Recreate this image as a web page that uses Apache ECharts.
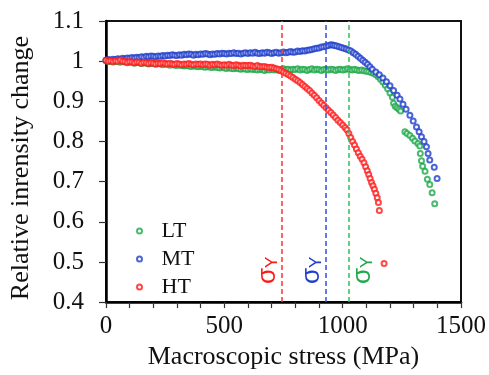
<!DOCTYPE html>
<html>
<head>
<meta charset="utf-8">
<script src="https://cdn.jsdelivr.net/npm/echarts@6/dist/echarts.min.js"></script>
<style>
  html, body { margin: 0; padding: 0; background: #fff; }
  #chart { width: 489px; height: 375px; }
</style>
</head>
<body>
<div id="chart"></div>
<script>
// Relative intensity change vs. macroscopic stress for three heat treatments
const seriesNames = ['LT', 'MT', 'HT'];
const seriesColors = ['#1ea84a', '#1f3fcc', '#ff1a1a'];
const yieldLineColors = ['#2fbf55', '#3050dd', '#ff3030'];

// yield stress (MPa) of LT, MT, HT
const yieldStress = [1026, 929, 741];

const ltPoints = [
  [0,1.001],[10,0.999],[20,1.000],[30,0.998],[40,1.000],[50,0.999],[60,0.997],[70,0.999],[80,0.998],[90,0.996],
  [100,0.998],[110,0.997],[120,0.995],[130,0.997],[140,0.996],[150,0.994],[160,0.996],[170,0.995],[180,0.993],[190,0.995],
  [200,0.994],[210,0.992],[220,0.994],[230,0.993],[240,0.991],[250,0.993],[260,0.992],[270,0.990],[280,0.992],[290,0.990],
  [300,0.989],[310,0.991],[320,0.989],[330,0.988],[340,0.990],[350,0.988],[360,0.987],[370,0.989],[380,0.987],[390,0.986],
  [400,0.988],[410,0.986],[420,0.985],[430,0.987],[440,0.985],[450,0.984],[460,0.986],[470,0.984],[480,0.983],[490,0.985],
  [500,0.983],[510,0.982],[520,0.984],[530,0.982],[540,0.981],[550,0.983],[560,0.981],[570,0.980],[580,0.982],[590,0.980],
  [600,0.979],[610,0.981],[620,0.979],[630,0.980],[640,0.978],[650,0.980],[660,0.979],[670,0.977],[680,0.979],[690,0.978],
  [700,0.980],[710,0.978],[720,0.979],[730,0.977],[740,0.979],[750,0.981],[760,0.979],[770,0.980],[780,0.978],[790,0.980],
  [800,0.979],[810,0.981],[820,0.978],[830,0.980],[840,0.979],[850,0.977],[860,0.979],[870,0.981],[880,0.978],[890,0.980],
  [900,0.979],[910,0.977],[920,0.979],[930,0.980],[940,0.978],[950,0.980],[960,0.979],[970,0.977],[980,0.979],[990,0.980],
  [1000,0.978],[1010,0.979],[1020,0.981],[1030,0.979],[1040,0.978],[1050,0.980],[1060,0.978],[1070,0.977],[1080,0.978],[1090,0.976],
  [1100,0.975],[1110,0.974],[1120,0.972],[1130,0.970],[1140,0.966],[1150,0.961],[1160,0.955],[1170,0.948],[1180,0.940],[1190,0.931],
  [1200,0.921],[1210,0.910],[1215,0.895],[1222,0.888],[1230,0.884],[1238,0.880],[1245,0.876],
  [1263,0.824],[1272,0.820],[1284,0.815],[1295,0.808],[1305,0.801],[1318,0.795],[1326,0.789],
  [1328,0.770],[1333,0.752],[1338,0.738],[1348,0.726],[1358,0.706],[1368,0.693],[1378,0.672],[1389,0.645]
];

const mtPoints = [
  [0,1.002],[10,1.004],[20,1.003],[30,1.005],[40,1.004],[50,1.006],[60,1.005],[70,1.007],[80,1.006],[90,1.008],
  [100,1.007],[110,1.009],[120,1.008],[130,1.010],[140,1.009],[150,1.011],[160,1.010],[170,1.012],[180,1.011],[190,1.013],
  [200,1.012],[210,1.011],[220,1.013],[230,1.012],[240,1.014],[250,1.013],[260,1.015],[270,1.014],[280,1.016],[290,1.015],
  [300,1.014],[310,1.016],[320,1.015],[330,1.017],[340,1.016],[350,1.018],[360,1.017],[370,1.015],[380,1.017],[390,1.016],
  [400,1.018],[410,1.017],[420,1.019],[430,1.018],[440,1.016],[450,1.018],[460,1.017],[470,1.019],[480,1.018],[490,1.020],
  [500,1.019],[510,1.018],[520,1.020],[530,1.019],[540,1.021],[550,1.019],[560,1.020],[570,1.018],[580,1.020],[590,1.021],
  [600,1.019],[610,1.021],[620,1.020],[630,1.022],[640,1.020],[650,1.019],[660,1.021],[670,1.020],[680,1.022],[690,1.021],
  [700,1.019],[710,1.021],[720,1.022],[730,1.020],[740,1.021],[750,1.023],[760,1.021],[770,1.022],[780,1.024],[790,1.022],
  [800,1.023],[810,1.025],[820,1.024],[830,1.026],[840,1.025],[850,1.027],[860,1.028],[870,1.029],[880,1.031],[890,1.032],
  [900,1.033],[910,1.035],[920,1.036],[930,1.038],[940,1.039],[950,1.041],[958,1.040],[966,1.039],[975,1.038],[985,1.036],
  [995,1.034],[1005,1.032],[1015,1.030],[1025,1.028],[1035,1.025],[1045,1.021],[1055,1.017],[1065,1.012],[1075,1.007],[1085,1.002],
  [1095,0.997],[1105,0.992],[1115,0.986],[1125,0.980],[1140,0.973],[1155,0.966],[1170,0.958],[1185,0.949],[1200,0.939],[1215,0.927],
  [1230,0.915],[1242,0.906],[1255,0.893],[1268,0.880],[1284,0.865],[1298,0.851],[1312,0.836],[1323,0.824],[1333,0.812],[1344,0.800],
  [1354,0.787],[1361,0.770],[1368,0.754],[1387,0.736],[1399,0.708]
];

const htPoints = [
  [0,1.002],[10,1.000],[20,1.001],[30,0.999],[40,1.001],[50,1.000],[60,1.003],[70,1.000],[80,0.999],[90,0.997],
  [100,0.999],[110,0.998],[120,0.996],[130,0.998],[140,0.997],[150,0.995],[160,0.997],[170,0.996],[180,0.994],[190,0.996],
  [200,0.995],[210,0.993],[220,0.995],[230,0.994],[240,0.996],[250,0.994],[260,0.993],[270,0.995],[280,0.993],[290,0.992],
  [300,0.994],[310,0.993],[320,0.991],[330,0.993],[340,0.992],[350,0.994],[360,0.992],[370,0.991],[380,0.993],[390,0.992],
  [400,0.993],[410,0.991],[420,0.993],[430,0.992],[440,0.990],[450,0.992],[460,0.991],[470,0.993],[480,0.991],[490,0.990],
  [500,0.991],[510,0.990],[520,0.992],[530,0.990],[540,0.989],[550,0.991],[560,0.990],[570,0.988],[580,0.990],[590,0.989],
  [600,0.989],[610,0.990],[620,0.988],[630,0.987],[640,0.989],[650,0.987],[660,0.986],[670,0.987],[680,0.985],[690,0.984],
  [700,0.985],[710,0.983],[720,0.981],[730,0.979],[740,0.976],[750,0.973],[760,0.970],[770,0.967],[780,0.963],[790,0.959],
  [800,0.955],[810,0.951],[820,0.947],[830,0.942],[840,0.937],[850,0.932],[860,0.927],[870,0.921],[880,0.915],[890,0.909],
  [900,0.902],[910,0.896],[920,0.890],[930,0.884],[940,0.878],[950,0.872],[960,0.866],[970,0.860],[980,0.853],[990,0.847],
  [1000,0.841],[1010,0.835],[1018,0.829],[1026,0.820],[1034,0.810],[1042,0.800],[1050,0.791],[1058,0.781],[1066,0.772],[1074,0.763],
  [1082,0.756],[1090,0.747],[1097,0.737],[1104,0.727],[1110,0.718],[1116,0.708],[1122,0.698],[1128,0.690],[1134,0.681],[1140,0.671],
  [1146,0.660],[1151,0.648],[1155,0.628],[1175,0.496]
];

const xTicks = { min: 0, max: 1500, step: 500 };
const yTicks = { min: 0.4, max: 1.1, step: 0.1 };

const serif = 'Liberation Serif';
const chart = echarts.init(document.getElementById('chart'), null, { renderer: 'canvas' });

const pointSets = [ltPoints, mtPoints, htPoints];

const scatterSeries = seriesNames.map((name, i) => ({
  name: name,
  type: 'scatter',
  z: 3,
  data: pointSets[i],
  symbol: 'emptyCircle',
  symbolSize: 5,
  itemStyle: { color: seriesColors[i], borderColor: seriesColors[i], borderWidth: 1.5 },
  emphasis: { disabled: true }
}));

// dashed yield-stress markers with their σY labels
const yieldSeries = {
  name: 'yield',
  type: 'scatter',
  z: 1,
  data: [],
  silent: true,
  markLine: {
    silent: true,
    symbol: ['none', 'none'],
    data: yieldStress.map((v, i) => ({
      xAxis: v,
      lineStyle: { color: yieldLineColors[i], type: [5, 3], width: 1.5 },
      label: {
        show: true,
        position: i === 0 ? 'insideStartBottom' : 'insideStartTop',
        distance: [18, 1],
        formatter: '{s|σ}{y|Y}',
        rich: {
          s: { fontFamily: 'Liberation Sans', fontSize: 26, color: seriesColors[i], lineHeight: 26 },
          y: { fontFamily: 'Liberation Sans', fontSize: 17, color: seriesColors[i], verticalAlign: 'bottom', lineHeight: 26 }
        }
      }
    }))
  }
};

chart.setOption({
  animation: false,
  backgroundColor: '#fff',
  grid: {
    left: 105, right: 28, top: 21, bottom: 69,
    show: true, borderColor: '#111', borderWidth: 2, backgroundColor: 'transparent'
  },
  legend: {
    data: seriesNames,
    orient: 'vertical',
    left: 131, top: 215,
    itemWidth: 34, itemHeight: 5, itemGap: 6,
    icon: 'emptyCircle',
    textStyle: { fontFamily: serif, fontSize: 22, lineHeight: 22, color: '#111' },
    selectedMode: false
  },
  xAxis: {
    type: 'value',
    min: xTicks.min, max: xTicks.max, interval: xTicks.step,
    name: 'Macroscopic stress (MPa)',
    nameLocation: 'middle', nameGap: 36,
    nameTextStyle: { fontFamily: serif, fontSize: 26, color: '#111' },
    axisLine: { show: true, lineStyle: { color: '#000', width: 2.5 } },
    axisTick: { show: true, inside: false, length: 6, lineStyle: { color: '#333', width: 1.2 } },
    minorTick: { show: true, splitNumber: 5, length: 6, lineStyle: { color: '#333', width: 1.2 } },
    axisLabel: { fontFamily: serif, fontSize: 25, color: '#111', margin: 12, formatter: v => String(v) },
    splitLine: { show: false }
  },
  yAxis: {
    type: 'value',
    min: yTicks.min, max: yTicks.max, interval: yTicks.step,
    name: 'Relative inrensity change',
    nameLocation: 'middle', nameGap: 72,
    nameTextStyle: { fontFamily: serif, fontSize: 26, color: '#111', padding: [0, 13, 0, 0] },
    axisLine: { show: true, lineStyle: { color: '#000', width: 2.5 } },
    axisTick: { show: true, inside: false, length: 7, lineStyle: { color: '#333', width: 1.2 } },
    axisLabel: {
      fontFamily: serif, fontSize: 25, color: '#111', margin: 22,
      formatter: v => String(Math.round(v * 10) / 10)
    },
    splitLine: { show: false }
  },
  series: [yieldSeries].concat(scatterSeries)
});
</script>
</body>
</html>
